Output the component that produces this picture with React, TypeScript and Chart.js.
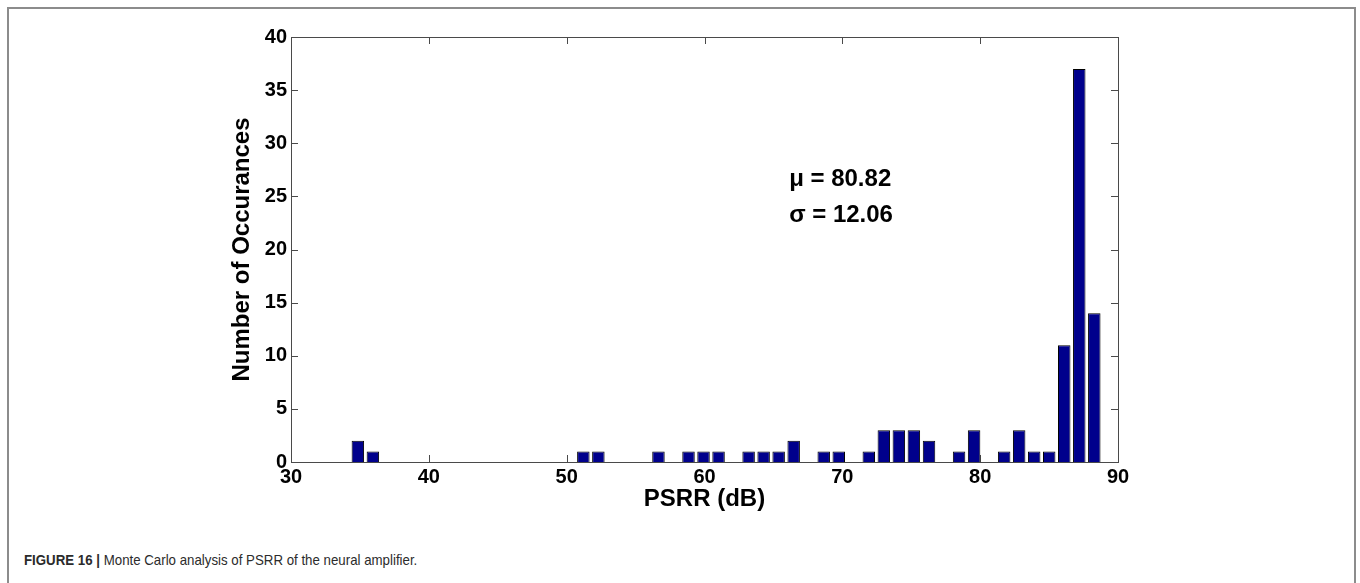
import React, { useEffect, useRef } from "react";
import { Chart, registerables } from "chart.js";

Chart.register(...registerables);

// Histogram bin centres (PSRR, dB) and number of occurrences per bin
const binCenters: number[] = [
  34.85, 35.94, 37.03, 38.12, 39.21, 40.3, 41.39, 42.48, 43.57, 44.66,
  45.75, 46.84, 47.93, 49.03, 50.12, 51.21, 52.3, 53.39, 54.48, 55.57,
  56.66, 57.75, 58.84, 59.93, 61.02, 62.11, 63.2, 64.29, 65.38, 66.47,
  67.56, 68.65, 69.74, 70.83, 71.92, 73.01, 74.1, 75.19, 76.29, 77.38,
  78.47, 79.56, 80.65, 81.74, 82.83, 83.92, 85.01, 86.1, 87.19, 88.28,
];
const counts: number[] = [
  2, 1, 0, 0, 0, 0, 0, 0, 0, 0,
  0, 0, 0, 0, 0, 1, 1, 0, 0, 0,
  1, 0, 1, 1, 1, 0, 1, 1, 1, 2,
  0, 1, 1, 0, 1, 3, 3, 3, 2, 0,
  1, 3, 0, 1, 3, 1, 1, 11, 37, 14,
];
const xTickRange = { min: 30, max: 90, step: 10 };
const yTickRange = { min: 0, max: 40, step: 5 };
const statLines: string[] = ["\u03bc = 80.82", "\u03c3 = 12.06"];
const xTitle = "PSRR (dB)";
const yTitle = "Number of Occurances";

const FONT = '"Liberation Sans", Arial, Helvetica, sans-serif';

export default function App() {
  const canvasRef = useRef<HTMLCanvasElement | null>(null);

  useEffect(() => {
    const canvas = canvasRef.current;
    if (!canvas) return;

    const frameTicks = {
      id: "frameTicks",
      beforeDatasetsDraw(chart: any) {
        const { ctx, chartArea, scales } = chart;
        const { left, right, top, bottom } = chartArea;
        const L = 7;
        ctx.save();
        ctx.strokeStyle = "#4a4a4a";
        ctx.lineWidth = 1;
        ctx.beginPath();
        scales.x.ticks.forEach((t: any) => {
          const px = Math.round(scales.x.getPixelForValue(t.value)) + 0.5;
          if (px <= left + 1 || px >= right - 1) return;
          ctx.moveTo(px, bottom);
          ctx.lineTo(px, bottom - L);
          ctx.moveTo(px, top);
          ctx.lineTo(px, top + L);
        });
        scales.y.ticks.forEach((t: any) => {
          const py = Math.round(scales.y.getPixelForValue(t.value)) + 0.5;
          if (py <= top + 1 || py >= bottom - 1) return;
          ctx.moveTo(left, py);
          ctx.lineTo(left + L, py);
          ctx.moveTo(right, py);
          ctx.lineTo(right - L, py);
        });
        ctx.stroke();
        ctx.strokeRect(
          Math.round(left) + 0.5,
          Math.round(top) + 0.5,
          Math.round(right - left),
          Math.round(bottom - top)
        );
        ctx.restore();
      },
    };

    const statsText = {
      id: "statsText",
      afterDatasetsDraw(chart: any) {
        const { ctx, scales } = chart;
        ctx.save();
        ctx.font = `bold 24px ${FONT}`;
        ctx.fillStyle = "#000";
        ctx.textAlign = "left";
        ctx.textBaseline = "middle";
        const x0 = scales.x.getPixelForValue(66.14);
        ctx.fillText(statLines[0], x0, scales.y.getPixelForValue(26.6));
        ctx.fillText(statLines[1], x0, scales.y.getPixelForValue(23.2));
        ctx.restore();
      },
    };

    const chart = new Chart(canvas, {
      type: "bar",
      data: {
        datasets: [
          {
            data: binCenters.map((c, i) => ({ x: c, y: counts[i] })),
            backgroundColor: "rgb(0,0,140)",
            borderColor: "#000",
            borderWidth: 1,
            barPercentage: 0.83,
            categoryPercentage: 1,
          },
        ],
      },
      options: {
        responsive: false,
        animation: false,
        devicePixelRatio: 1,
        layout: { padding: { left: 225, right: 242, top: 37, bottom: 0 } },
        plugins: {
          legend: { display: false },
          tooltip: { enabled: false },
        },
        scales: {
          x: {
            type: "linear",
            min: xTickRange.min,
            max: xTickRange.max,
            offset: false,
            grid: { display: false, drawTicks: false, offset: false },
            border: { display: false },
            ticks: {
              stepSize: xTickRange.step,
              padding: 3,
              color: "#000",
              font: { family: FONT, size: 20, weight: "bold" },
              maxRotation: 0,
            },
            title: {
              display: true,
              text: xTitle,
              color: "#000",
              font: { family: FONT, size: 24, weight: "bold" },
              padding: { top: 0, bottom: 6 },
            },
            afterFit(scale: any) {
              scale.height = 58;
            },
          },
          y: {
            min: yTickRange.min,
            max: yTickRange.max,
            grid: { display: false, drawTicks: false },
            border: { display: false },
            ticks: {
              stepSize: yTickRange.step,
              padding: 4,
              color: "#000",
              font: { family: FONT, size: 20, weight: "bold" },
            },
            title: {
              display: true,
              text: yTitle,
              color: "#000",
              font: { family: FONT, size: 24, weight: "bold" },
              padding: { top: 3, bottom: 0 },
            },
            afterFit(scale: any) {
              scale.width = 66;
            },
          },
        },
      } as any,
      plugins: [frameTicks, statsText],
    });

    return () => chart.destroy();
  }, []);

  return (
    <div style={{ position: "absolute", left: 0, top: 0, width: 1360, height: 583, overflow: "hidden", background: "#fff" }}>
      <div
        style={{
          position: "absolute",
          left: 7,
          top: 7,
          width: 1349,
          height: 620,
          boxSizing: "border-box",
          border: "2px solid #8c8c8c",
        }}
      />
      <canvas
        ref={canvasRef}
        width={1360}
        height={520}
        style={{ position: "absolute", left: 0, top: 0, width: 1360, height: 520 }}
      />
      <div
        style={{
          position: "absolute",
          left: 24,
          top: 551,
          fontFamily: FONT,
          fontSize: 15,
          lineHeight: "18px",
          color: "#2b2b2b",
          whiteSpace: "nowrap",
          transform: "scaleX(0.885)",
          transformOrigin: "0 0",
        }}
      >
        <b>FIGURE 16 |</b> Monte Carlo analysis of PSRR of the neural amplifier.
      </div>
    </div>
  );
}
